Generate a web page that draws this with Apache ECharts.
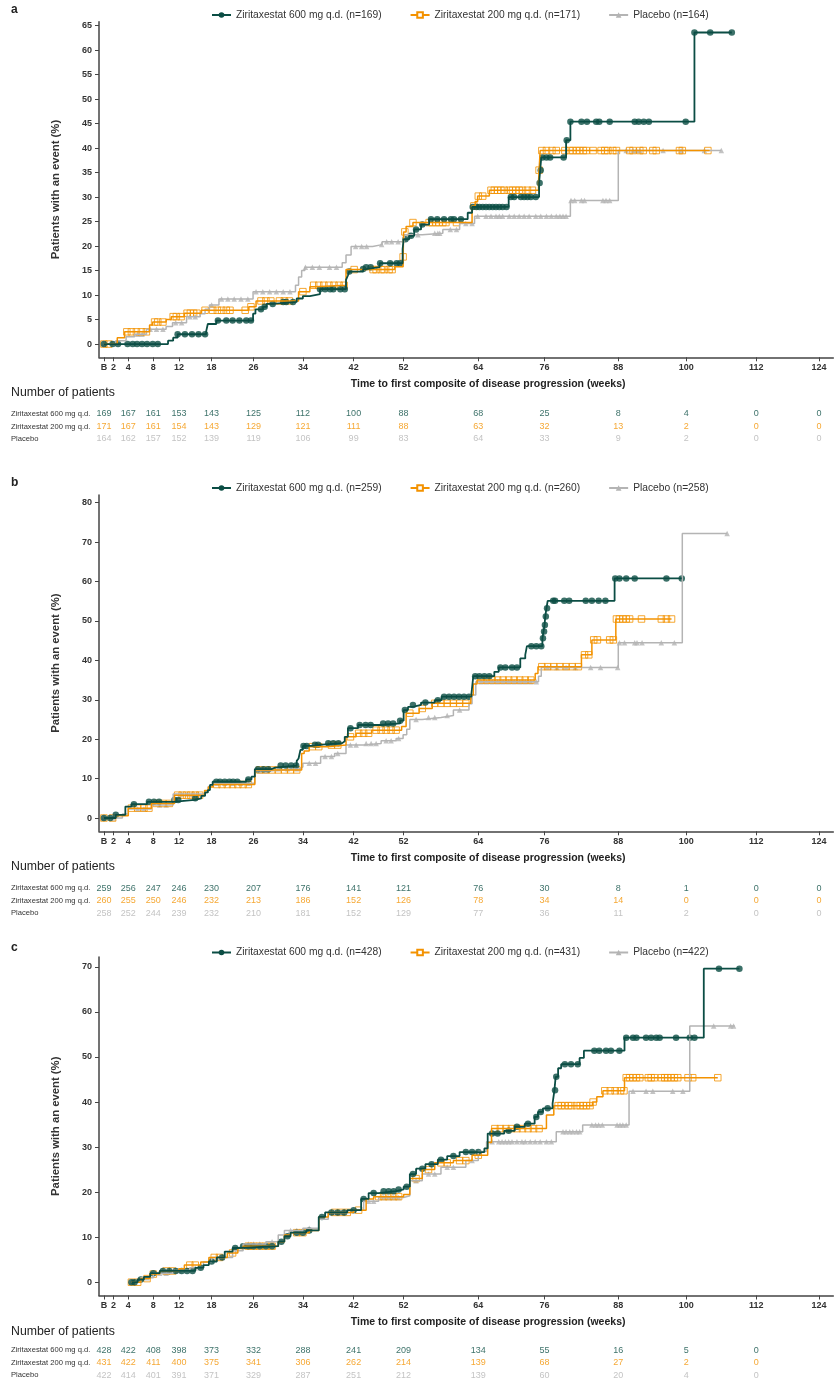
<!DOCTYPE html>
<html>
<head>
<meta charset="utf-8">
<script src="https://cdn.jsdelivr.net/npm/echarts@6/dist/echarts.min.js"></script>
<style>
  html, body { margin: 0; padding: 0; background: #fff; }
  #chart { width: 835px; height: 1386px; }
</style>
</head>
<body>
<div id="chart"></div>
<script>
// ---- axis: visit weeks, published axis is not evenly spaced ----
const tickWeeks  = [0, 2, 4, 8, 12, 18, 26, 34, 42, 52, 64, 76, 88, 100, 112, 124];
const tickLabels = ['B', '2', '4', '8', '12', '18', '26', '34', '42', '52', '64', '76', '88', '100', '112', '124'];
const riskWeeks  = [0, 4, 8, 12, 18, 26, 34, 42, 52, 64, 76, 88, 100, 112, 124];
const rowLabels  = ['Ziritaxestat 600 mg q.d.', 'Ziritaxestat 200 mg q.d.', 'Placebo'];

// ---- panel a ----
const aNames = ['Ziritaxestat 600 mg q.d. (n=169)', 'Ziritaxestat 200 mg q.d. (n=171)', 'Placebo (n=164)'];
const aSteps600 = [[0,0],[10.3,0.7],[11.1,1.3],[11.8,2.0],[17.0,2.6],[17.3,4.1],[18.9,4.8],[25.9,6.2],[26.3,7.1],[27.5,7.6],[28.1,8.2],[29.2,8.6],[33.0,9.3],[34.0,9.8],[35.1,10.2],[36.7,11.2],[40.8,13.1],[41.1,14.0],[41.3,14.8],[43.9,15.3],[44.5,15.7],[47.2,16.5],[51.8,19.4],[52.0,21.4],[52.9,22.1],[53.7,23.4],[54.8,24.4],[56.1,25.5],[62.3,26.8],[63.0,28.0],[69.5,30.0],[75.0,32.9],[75.2,35.5],[75.4,38.1],[79.5,41.6],[80.2,45.4],[101.4,63.6],[107.8,63.6]];
const aSteps200 = [[0,0],[2.5,1.3],[3.5,2.5],[7.4,3.9],[7.9,4.5],[10.0,5.0],[10.8,5.6],[13.0,6.3],[16.1,6.9],[25.1,7.6],[26.4,8.8],[33.3,10.7],[35.1,11.7],[35.7,12.0],[40.8,15.2],[50.2,15.8],[51.9,17.8],[52.0,22.9],[52.4,24.0],[53.5,24.8],[63.0,28.2],[63.5,29.1],[63.9,30.2],[66.0,31.4],[74.9,33.0],[75.0,35.5],[75.2,39.5],[104.0,39.5]];
const aStepsPbo = [[0,0],[2.3,0.7],[3.7,1.5],[5.0,2.0],[6.9,3.0],[10.0,3.6],[11.0,4.35],[13.4,5.6],[15.9,6.2],[16.8,7.1],[17.6,8.0],[19.4,9.2],[25.9,10.7],[32.8,12.0],[33.3,13.7],[33.8,15.0],[34.3,15.7],[40.2,16.6],[40.8,18.2],[41.6,19.9],[45.8,20.3],[47.7,20.9],[52.1,22.3],[55.0,22.6],[58.3,23.4],[61.0,24.6],[63.4,26.1],[80.2,29.3],[88.0,39.5],[106.0,39.5]];
const aCens600 = [0,1.8,2.6,3.9,4.7,5.4,6.2,7.0,7.9,8.7,11.8,13.1,14.4,15.6,16.8,19.2,20.8,22.0,23.3,24.6,25.5,27.2,27.8,29.1,30.8,31.3,32.4,36.7,37.5,38.3,38.8,39.9,40.6,41.3,43.9,44.5,45.4,47.3,49.3,50.6,51.3,52.3,53.2,54.0,55.0,56.4,57.4,58.5,59.6,60.1,61.2,63.1,63.7,64.2,64.8,65.4,66.0,66.6,67.2,67.8,68.4,69.1,69.9,70.5,71.7,72.3,72.9,73.5,74.4,75.1,75.3,75.6,76.3,76.9,79.1,79.6,80.2,82.0,82.9,84.4,84.9,86.6,90.9,91.6,92.5,93.4,99.9,101.4,104.1,107.8];
const aCens200 = [0,1.0,3.8,4.5,5.3,6.1,6.9,8.2,8.7,9.5,11.1,11.6,12.4,13.5,14.1,14.7,15.3,16.8,18.2,19.1,19.9,20.8,21.5,24.4,25.5,27.2,28.0,28.8,30.2,31.0,31.8,34.0,35.7,36.5,37.3,38.1,38.9,39.7,40.5,42.1,45.9,46.5,47.5,48.1,49.1,49.7,51.9,52.2,53.5,56.1,56.6,57.2,57.7,58.3,58.8,60.5,63.3,64.0,64.8,66.3,66.9,67.5,68.1,68.7,69.6,70.2,70.8,71.4,72.0,72.9,73.8,75.0,75.5,76.3,77.2,77.9,79.3,80.1,80.6,81.2,81.7,82.3,82.8,83.9,85.2,85.8,86.3,87.1,87.7,90.0,90.6,91.8,92.4,94.1,94.7,98.8,99.3,103.7];
const aCensPbo = [0,5.5,6.2,7.5,8.5,9.5,11.5,12.5,14.0,15.0,18.0,19.9,21.1,22.3,23.6,24.9,26.4,27.5,28.6,29.7,30.8,31.9,34.4,35.5,36.6,38.2,39.3,42.4,43.6,44.6,47.6,48.6,49.6,50.9,53.0,54.3,57.0,57.5,57.8,59.5,60.5,62.0,63.0,63.9,65.4,66.3,67.2,67.8,68.4,69.6,70.5,71.4,72.3,73.2,74.4,75.3,76.3,77.1,77.9,78.5,79.0,79.5,80.3,80.9,82.0,82.5,85.5,86.0,86.6,89.4,90.6,91.2,91.8,95.9,99.1,103.1,106.0];
const aRisk600 = [169, 167, 161, 153, 143, 125, 112, 100, 88, 68, 25, 8, 4, 0, 0];
const aRisk200 = [171, 167, 161, 154, 143, 129, 121, 111, 88, 63, 32, 13, 2, 0, 0];
const aRiskPbo = [164, 162, 157, 152, 139, 119, 106, 99, 83, 64, 33, 9, 2, 0, 0];

// ---- panel b ----
const bNames = ['Ziritaxestat 600 mg q.d. (n=259)', 'Ziritaxestat 200 mg q.d. (n=260)', 'Placebo (n=258)'];
const bSteps600 = [[0,0],[2.3,0.8],[3.6,2.9],[4.5,3.5],[7.0,4.1],[11.1,4.6],[14.9,5.0],[16.1,5.6],[16.8,6.5],[17.3,7.1],[17.7,8.4],[18.2,9.2],[24.6,9.8],[25.6,10.5],[26.2,12.4],[28.9,12.8],[29.5,13.3],[33.0,14.5],[33.3,15.1],[33.6,17.3],[34.0,18.3],[35.4,18.6],[37.0,19.0],[40.2,19.5],[40.6,20.6],[41.1,22.8],[42.9,23.6],[47.3,24.0],[51.3,24.7],[52.0,27.4],[52.7,28.2],[53.5,28.7],[54.8,29.3],[57.0,29.9],[58.1,30.8],[62.9,31.6],[63.2,36.0],[66.9,37.1],[67.7,38.2],[71.6,40.5],[72.5,41.4],[72.8,43.6],[75.6,45.6],[75.8,47.3],[76.0,49.0],[76.1,51.1],[76.3,53.2],[76.5,55.1],[87.4,60.8],[99.2,60.8]];
const bSteps200 = [[0,0],[2.3,0.6],[4.0,2.5],[7.7,3.7],[11.3,5.8],[16.7,7.0],[17.4,7.9],[18.3,8.5],[26.2,12.2],[33.8,16.4],[34.2,17.0],[35.0,18.1],[37.8,18.5],[40.8,20.6],[42.5,21.5],[45.6,22.3],[51.6,23.2],[52.4,26.6],[54.5,27.8],[56.6,29.1],[62.8,31.2],[63.2,34.0],[63.8,35.0],[74.3,36.7],[74.8,38.4],[82.0,41.4],[83.7,45.2],[87.6,50.5],[97.4,50.5]];
const bStepsPbo = [[0,0],[3.2,1.0],[4.0,2.3],[7.7,3.3],[11.1,6.1],[16.5,6.6],[17.4,8.0],[18.2,8.8],[26.2,12.0],[29.0,12.5],[33.5,13.0],[34.0,13.9],[36.8,15.6],[39.0,16.4],[40.8,18.5],[43.9,18.9],[47.5,19.6],[50.5,20.2],[51.9,21.1],[52.5,22.5],[53.0,25.0],[55.0,25.5],[58.0,26.0],[60.0,27.4],[62.5,29.0],[63.0,31.2],[63.6,34.6],[74.9,36.0],[75.4,38.2],[88.0,44.5],[99.3,72.2],[107.0,72.2]];
const bCens600 = [0,1.3,2.3,4.9,7.3,8.1,8.9,11.3,11.9,15.0,18.9,19.6,20.5,21.4,22.1,22.9,25.0,26.7,27.6,28.4,30.4,31.2,32.1,32.9,34.1,34.6,35.9,36.4,38.0,38.8,39.6,41.5,43.2,44.4,45.4,47.9,48.9,49.9,51.3,52.2,53.5,55.5,57.5,58.5,59.3,60.1,60.9,61.7,62.5,63.5,64.2,65.1,66.0,68.0,68.9,70.1,71.0,73.6,74.5,75.4,75.7,75.9,76.05,76.2,76.4,77.4,77.7,79.2,80.0,82.7,83.7,84.8,85.9,87.5,88.2,89.4,90.9,96.5,99.2];
const bCens200 = [0,1.8,4.5,5.5,6.5,7.3,8.5,9.5,10.5,11.8,12.6,13.4,14.2,15.0,15.8,19,20,21,22,23,24,25,27,28,29,30,31,32,33,35.5,36.5,38.5,39.5,41.5,43,44,45,46.5,47.5,48.5,49.5,50.5,53,55,57,58,59,60,61,62,64.5,65.5,66.5,67.5,68.5,69.5,70.5,71.5,72.5,73.5,75.5,76.5,77.5,78.5,79.5,80.5,81.5,82.5,83.2,84.0,84.6,86.6,87.2,87.7,88.2,88.8,89.4,90.0,92.1,95.6,96.5,97.4];
const bCensPbo = [0,2.0,5.5,6.5,9.0,10.0,12.5,13.5,14.5,15.5,19,20.5,22,23.5,25,27,28,30,31.5,33,35,36,37.5,38.5,39.5,41.5,42.5,44.5,45.5,46.5,48.5,49.5,51,54,56,57,59,61,64.5,65.5,66.5,67.5,68.5,69.5,70.5,71.5,72.5,73.5,74.5,76.5,78,79.5,81,83.5,85.1,87.9,88.2,89.1,90.9,91.3,92.2,95.6,97.9,107.0];
const bRisk600 = [259, 256, 247, 246, 230, 207, 176, 141, 121, 76, 30, 8, 1, 0, 0];
const bRisk200 = [260, 255, 250, 246, 232, 213, 186, 152, 126, 78, 34, 14, 0, 0, 0];
const bRiskPbo = [258, 252, 244, 239, 232, 210, 181, 152, 129, 77, 36, 11, 2, 0, 0];

// ---- panel c ----
const cNames = ['Ziritaxestat 600 mg q.d. (n=428)', 'Ziritaxestat 200 mg q.d. (n=431)', 'Placebo (n=422)'];
const cSteps600 = [[4.5,0],[5.5,0.6],[6.5,1.2],[7.5,2.0],[9.0,2.5],[15.0,3.2],[16.5,3.8],[17.5,4.6],[19.0,5.5],[20.5,6.8],[22.0,7.6],[23.0,8.0],[30.0,9.0],[31.0,10.2],[32.0,11.0],[34.5,11.5],[36.5,14.5],[37.5,15.5],[41.0,16.0],[43.5,18.5],[45.0,19.8],[47.0,20.2],[50.5,20.6],[52.0,21.2],[53.0,24.0],[54.0,25.2],[55.5,26.2],[57.5,27.2],[59.0,28.0],[61.0,28.9],[65.1,29.7],[65.7,33.0],[68.7,33.6],[70.6,34.5],[72.4,35.2],[74.2,36.7],[74.8,37.8],[75.7,38.6],[77.3,39.7],[77.6,42.6],[77.8,45.6],[78.2,47.5],[78.7,48.4],[81.7,49.8],[82.4,51.4],[89.1,54.3],[103.0,69.6],[109.1,69.6]];
const cSteps200 = [[4.5,0],[6.0,0.8],[7.5,1.8],[9.0,2.5],[12.0,3.0],[13.0,3.8],[16.0,4.5],[17.5,5.5],[21.0,6.5],[23.0,7.5],[24.0,8.0],[30.0,9.0],[31.0,10.5],[32.0,11.0],[35.0,11.5],[36.5,14.5],[38.0,15.5],[42.0,16.0],[44.5,18.5],[46.0,19.0],[52.0,19.5],[53.0,23.0],[55.0,25.0],[57.0,26.5],[60.0,27.0],[63.0,28.2],[65.7,31.0],[66.4,34.1],[76.3,37.1],[77.5,39.2],[83.8,40.0],[84.5,41.2],[85.5,42.5],[89.1,45.4],[105.4,45.4]];
const cStepsPbo = [[4.5,0],[6.0,1.0],[8.0,2.0],[11.0,2.6],[14.0,3.2],[16.5,4.5],[18.0,5.5],[22.0,7.0],[24.0,8.5],[28.0,9.0],[30.0,10.5],[31.0,11.5],[34.0,12.0],[36.5,14.0],[38.0,15.5],[42.0,16.0],[44.0,18.0],[47.0,18.8],[52.0,19.2],[53.0,22.5],[55.0,24.0],[58.0,25.5],[62.0,27.0],[64.0,29.0],[65.5,31.2],[77.9,33.4],[82.2,34.9],[89.9,42.4],[100.6,56.9],[108.3,56.9]];
const cCens600 = [4.5,5.0,6.0,8.0,9.5,10.5,11.5,12.5,13.5,14.5,16.0,18.0,20.0,22.5,24.0,25.0,26.0,27.0,28.0,29.0,30.5,31.5,33.0,34.0,35.0,37.0,38.5,39.5,40.5,42.0,44.0,46.0,48.0,49.0,50.0,51.0,52.5,53.5,55.0,56.5,58.0,60.0,62.0,63.0,64.0,66.5,67.5,69.5,71.0,73.0,74.5,75.3,76.5,77.7,77.9,79.3,80.3,81.4,84.1,84.9,86.0,86.8,88.2,89.4,90.6,91.2,92.9,93.8,94.7,95.3,98.2,100.6,101.4,105.6,109.1];
const cCens200 = [4.5,5.5,7.0,8.0,10.0,11.0,14.0,15.0,18.5,19.5,22.0,25.0,26.0,27.0,28.0,29.0,33.0,34.0,39.0,40.0,41.0,43.0,47.0,48.0,49.0,50.0,51.0,54.0,56.0,58.0,59.0,61.0,62.0,64.0,67.0,68.0,69.0,70.0,71.0,72.0,73.0,74.0,75.0,78.2,78.7,79.3,79.9,80.4,81.2,81.8,82.3,82.8,83.4,83.9,85.8,86.7,87.5,88.4,89.0,89.4,90.0,90.6,91.2,91.8,93.3,93.8,94.4,95.6,96.2,96.7,97.3,97.9,98.5,100.3,101.1,105.4];
const cCensPbo = [4.5,7.0,9.0,10.0,12.0,15.0,19.0,20.0,25.0,26.0,27.0,29.0,32.0,33.0,35.0,39.0,40.0,45.0,46.0,48.0,49.0,50.0,51.0,54.0,56.0,57.0,59.0,60.0,63.0,66.5,67.7,68.3,68.9,69.5,70.1,71.0,71.9,72.5,73.4,74.3,75.2,76.3,77.1,79.0,79.5,80.1,80.6,81.2,81.7,83.7,84.3,84.8,85.4,87.8,88.3,88.8,89.4,90.6,92.9,94.1,97.6,99.4,104.7,107.6,108.1];
const cRisk600 = [428, 422, 408, 398, 373, 332, 288, 241, 209, 134, 55, 16, 5, 0];
const cRisk200 = [431, 422, 411, 400, 375, 341, 306, 262, 214, 139, 68, 27, 2, 0];
const cRiskPbo = [422, 414, 401, 391, 371, 329, 287, 251, 212, 139, 60, 20, 4, 0];

// ---- styling / layout ----
const colors = ['#0b4d44', '#f39200', '#b4b4b4'];
const FONT = 'Liberation Sans, Arial, sans-serif';
// axis position of each tick, as laid out in the published figure
const tickPos = [0, 1.68, 4.23, 8.57, 13.01, 18.68, 25.96, 34.51, 43.31, 51.98, 64.93, 76.43, 89.21, 101.0, 113.15, 124];
const X_MIN = -0.85, X_MAX = 126.5;
const PLOT_LEFT = 99, PLOT_W = 734.3;

function toAxis(w) {
  for (let i = 1; i < tickWeeks.length; i++) {
    if (w <= tickWeeks[i]) {
      const t = (w - tickWeeks[i - 1]) / (tickWeeks[i] - tickWeeks[i - 1]);
      return tickPos[i - 1] + t * (tickPos[i] - tickPos[i - 1]);
    }
  }
  return tickPos[tickPos.length - 1];
}

function levelAt(steps, w) {
  let v = steps[0][1];
  for (const [sw, sv] of steps) {
    if (sw <= w) v = sv; else break;
  }
  return v;
}

const panels = [
  { letter: 'a', names: aNames, steps: [aSteps600, aSteps200, aStepsPbo], cens: [aCens600, aCens200, aCensPbo], risk: [aRisk600, aRisk200, aRiskPbo],
    letterY: 4, legendY: 10, top: 21.7, axisY: 357.3, yMin: -2.7, yMax: 65.8, yStep: 5, yTop: 65, nopY: 387, tableTop: 407.75 },
  { letter: 'b', names: bNames, steps: [bSteps600, bSteps200, bStepsPbo], cens: [bCens600, bCens200, bCensPbo], risk: [bRisk600, bRisk200, bRiskPbo],
    letterY: 477, legendY: 483, top: 495, axisY: 831.3, yMin: -3.37, yMax: 81.96, yStep: 10, yTop: 80, nopY: 861, tableTop: 882 },
  { letter: 'c', names: cNames, steps: [cSteps600, cSteps200, cStepsPbo], cens: [cCens600, cCens200, cCensPbo], risk: [cRisk600, cRisk200, cRiskPbo],
    letterY: 942, legendY: 947.5, top: 957, axisY: 1295.5, yMin: -2.95, yMax: 72.2, yStep: 10, yTop: 70, nopY: 1326, tableTop: 1344 }
];

const symbols = [
  { line: 'circle', size: 6.5, style: { color: colors[0] } },
  { line: 'emptyRect', size: 6.5, style: { color: 'rgba(0,0,0,0)', borderColor: colors[1], borderWidth: 1 } },
  { line: 'triangle', size: 5.5, style: { color: colors[2] } }
];

const option = {
  animation: false,
  backgroundColor: '#fff',
  textStyle: { fontFamily: FONT },
  title: [], legend: [], grid: [], xAxis: [], yAxis: [], series: []
};

panels.forEach((p, pi) => {
  const gPlot = pi * 2, gTab = pi * 2 + 1;
  const yTicks = [];
  for (let v = 0; v <= p.yTop; v += p.yStep) yTicks.push(v);

  option.title.push(
    { text: p.letter, left: 11, top: p.letterY, padding: 0, textStyle: { fontSize: 12, fontWeight: 'bold', color: '#222', fontFamily: FONT } },
    { text: 'Number of patients', left: 11, top: p.nopY, padding: 0, textStyle: { fontSize: 12.3, fontWeight: 'normal', color: '#222', fontFamily: FONT } }
  );

  option.legend.push({
    left: 211, top: p.legendY, padding: 0, itemGap: 28, itemWidth: 19, itemHeight: 7,
    textStyle: { fontSize: 10.25, color: '#333', fontFamily: FONT },
    data: p.names
  });

  option.grid.push(
    { left: PLOT_LEFT, top: p.top, width: PLOT_W, height: p.axisY - p.top },
    { left: PLOT_LEFT, top: p.tableTop, width: PLOT_W, height: 37.5 }
  );

  option.xAxis.push({
    gridIndex: gPlot, type: 'value', min: X_MIN, max: X_MAX,
    name: 'Time to first composite of disease progression (weeks)',
    nameLocation: 'middle', nameGap: 21,
    nameTextStyle: { fontSize: 10.5, fontWeight: 'bold', color: '#222', padding: [0, 0, 0, 44] },
    axisLine: { onZero: false, lineStyle: { color: '#444', width: 1.5 } },
    axisTick: { customValues: tickPos, length: 4, lineStyle: { color: '#444', width: 1 } },
    axisLabel: {
      customValues: tickPos, margin: 6, fontSize: 9, fontWeight: 'bold', color: '#333',
      formatter: v => {
        let best = 0;
        tickPos.forEach((t, i) => { if (Math.abs(t - v) < Math.abs(tickPos[best] - v)) best = i; });
        return tickLabels[best];
      }
    },
    splitLine: { show: false }
  }, {
    gridIndex: gTab, type: 'value', min: X_MIN, max: X_MAX, show: false
  });

  option.yAxis.push({
    gridIndex: gPlot, type: 'value', min: p.yMin, max: p.yMax,
    name: 'Patients with an event (%)', nameLocation: 'middle', nameGap: 38,
    nameTextStyle: { fontSize: 11.3, fontWeight: 'bold', color: '#333' },
    axisLine: { show: true, onZero: false, lineStyle: { color: '#444', width: 1.5 } },
    axisTick: { show: true, customValues: yTicks, length: 4, lineStyle: { color: '#444', width: 1 } },
    axisLabel: { customValues: yTicks, margin: 7, fontSize: 9, fontWeight: 'bold', color: '#333' },
    splitLine: { show: false }
  }, {
    gridIndex: gTab, type: 'category', inverse: true, data: rowLabels,
    axisLine: { show: false }, axisTick: { show: false },
    axisLabel: { align: 'left', margin: PLOT_LEFT - 11, fontSize: 7.6, color: '#333' }
  });

  // draw placebo first, then 200 mg, then 600 mg on top
  [2, 1, 0].forEach(k => {
    const steps = p.steps[k];
    option.series.push({
      name: p.names[k], type: 'line', step: 'end',
      xAxisIndex: gPlot, yAxisIndex: gPlot,
      data: steps.map(([w, v]) => [toAxis(w), v]),
      symbol: symbols[k].line, symbolSize: symbols[k].size, showSymbol: false,
      itemStyle: { color: colors[k] },
      lineStyle: { color: colors[k], width: k === 0 ? 1.8 : 1.5 },
      silent: true
    }, {
      type: 'scatter', xAxisIndex: gPlot, yAxisIndex: gPlot,
      data: p.cens[k].map(w => [toAxis(w), levelAt(steps, w)]),
      symbol: k === 1 ? 'rect' : symbols[k].line, symbolSize: symbols[k].size,
      itemStyle: symbols[k].style, silent: true
    });
  });

  // number at risk table
  p.risk.forEach((vals, r) => {
    option.series.push({
      type: 'scatter', xAxisIndex: gTab, yAxisIndex: gTab, symbolSize: 0, silent: true,
      data: vals.map((n, i) => [toAxis(riskWeeks[i]), r, n]),
      label: { show: true, position: 'inside', formatter: d => d.value[2], fontSize: 9, color: colors[r], fontFamily: FONT }
    });
  });
});

const chart = echarts.init(document.getElementById('chart'), null, { renderer: 'canvas' });
chart.setOption(option);
</script>
</body>
</html>
